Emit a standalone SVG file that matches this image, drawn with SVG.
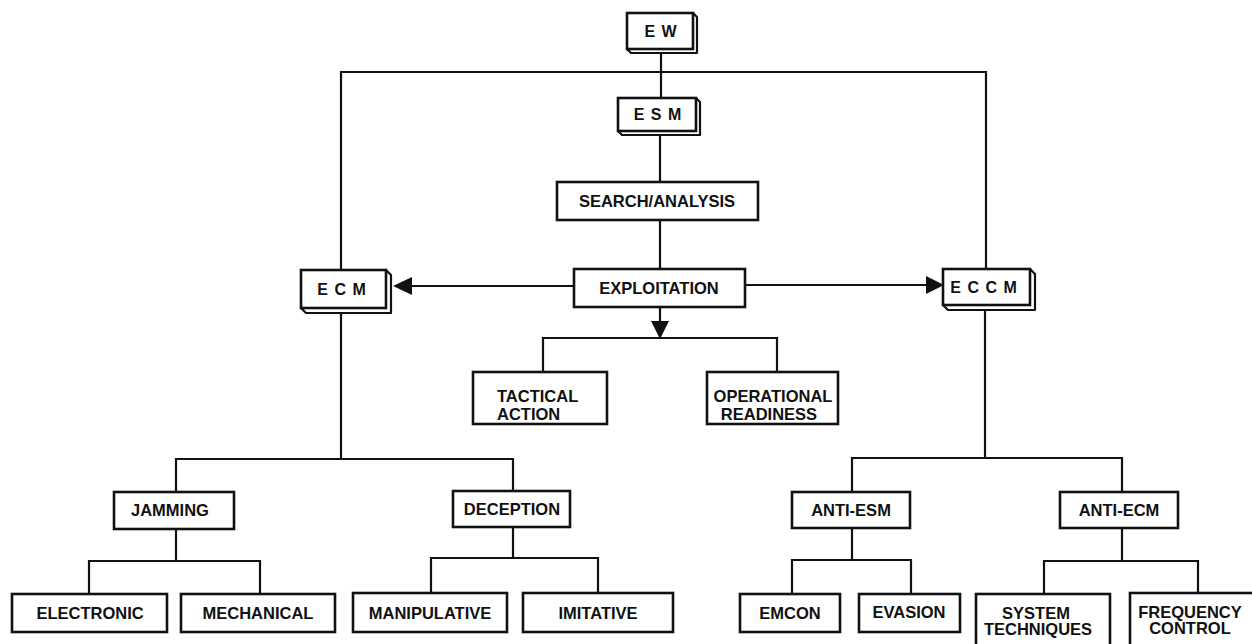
<svg xmlns="http://www.w3.org/2000/svg" width="1252" height="644" viewBox="0 0 1252 644">
<style>
  .bx{fill:#fff;stroke:#111;stroke-width:2.6}
  .d3{fill:#fff;stroke:#111;stroke-width:2.2;stroke-linejoin:round}
  .ln{fill:none;stroke:#111;stroke-width:2.2}
  .ah{fill:#111;stroke:none}
  text{font-family:"Liberation Sans",Arial,sans-serif;font-weight:bold;font-size:16.5px;fill:#111;text-anchor:middle}
  .sp{font-size:16px;letter-spacing:1px}
</style>
<rect x="0" y="0" width="1252" height="644" fill="#fff"/>
<g id="connectors">
  <path class="ln" d="M661 53 V98"/>
  <path class="ln" d="M341 270 V72 H986 V269"/>
  <path class="ln" d="M660 135 V182"/>
  <path class="ln" d="M660 220 V269"/>
  <path class="ln" d="M574 286 H410"/>
  <polygon class="ah" points="393,286 412,277 412,295"/>
  <path class="ln" d="M745 285 H929"/>
  <polygon class="ah" points="944,285 926,276 926,294"/>
  <path class="ln" d="M660 307 V324"/>
  <polygon class="ah" points="660,339 651,321 669,321"/>
  <path class="ln" d="M543 372 V338 H777 V372"/>
  <path class="ln" d="M341 313 V459"/>
  <path class="ln" d="M176 492 V459 H513 V491"/>
  <path class="ln" d="M176 529 V561"/>
  <path class="ln" d="M89 594 V561 H260 V594"/>
  <path class="ln" d="M513 527 V558"/>
  <path class="ln" d="M431 593 V558 H598 V593"/>
  <path class="ln" d="M985 310 V458"/>
  <path class="ln" d="M852 492 V458 H1122 V492"/>
  <path class="ln" d="M852 528 V560"/>
  <path class="ln" d="M792 594 V560 H911 V594"/>
  <path class="ln" d="M1122 528 V561"/>
  <path class="ln" d="M1044 594 V561 H1198 V593"/>
</g>
<g id="ew">
  <path class="d3" d="M693 13 L697 17 V53 H631 L627 49"/>
  <rect class="bx" x="627" y="13" width="66" height="36"/>
  <text class="sp" x="661" y="37">E W</text>
</g>
<g id="esm">
  <path class="d3" d="M696 98 L700 102 V135 H622 L618 131"/>
  <rect class="bx" x="618" y="98" width="78" height="33"/>
  <text class="sp" x="658" y="120">E S M</text>
</g>
<g id="search">
  <rect class="bx" x="557" y="182" width="201" height="38"/>
  <text x="657" y="207">SEARCH/ANALYSIS</text>
</g>
<g id="exploitation">
  <rect class="bx" x="574" y="269" width="171" height="38"/>
  <text x="659" y="294">EXPLOITATION</text>
</g>
<g id="ecm">
  <path class="d3" d="M386 270 L391 275 V313 H306 L301 308"/>
  <rect class="bx" x="301" y="270" width="85" height="38"/>
  <text class="sp" x="342" y="295">E C M</text>
</g>
<g id="eccm">
  <path class="d3" d="M1030 269 L1035 274 V310 H948 L943 305"/>
  <rect class="bx" x="943" y="269" width="87" height="36"/>
  <text class="sp" x="984" y="293">E C C M</text>
</g>
<g id="tactical">
  <rect class="bx" x="473" y="372" width="134" height="52"/>
  <text x="497" y="402" style="text-anchor:start">TACTICAL</text>
  <text x="497" y="420" style="text-anchor:start">ACTION</text>
</g>
<g id="operational">
  <rect class="bx" x="707" y="372" width="131" height="52"/>
  <text x="773" y="402">OPERATIONAL</text>
  <text x="769" y="420">READINESS</text>
</g>
<g id="jamming">
  <rect class="bx" x="114" y="492" width="120" height="37"/>
  <text x="170" y="516">JAMMING</text>
</g>
<g id="deception">
  <rect class="bx" x="453" y="491" width="117" height="36"/>
  <text x="512" y="515">DECEPTION</text>
</g>
<g id="antiesm">
  <rect class="bx" x="792" y="492" width="118" height="36"/>
  <text x="851" y="516">ANTI-ESM</text>
</g>
<g id="antiecm">
  <rect class="bx" x="1060" y="492" width="118" height="36"/>
  <text x="1119" y="516">ANTI-ECM</text>
</g>
<g id="electronic">
  <rect class="bx" x="12" y="594" width="155" height="38"/>
  <text x="90" y="619">ELECTRONIC</text>
</g>
<g id="mechanical">
  <rect class="bx" x="181" y="594" width="154" height="38"/>
  <text x="258" y="619">MECHANICAL</text>
</g>
<g id="manipulative">
  <rect class="bx" x="353" y="593" width="154" height="39"/>
  <text x="430" y="619">MANIPULATIVE</text>
</g>
<g id="imitative">
  <rect class="bx" x="523" y="593" width="150" height="39"/>
  <text x="598" y="619">IMITATIVE</text>
</g>
<g id="emcon">
  <rect class="bx" x="740" y="594" width="100" height="38"/>
  <text x="790" y="619">EMCON</text>
</g>
<g id="evasion">
  <rect class="bx" x="859" y="594" width="101" height="38"/>
  <text x="909" y="618">EVASION</text>
</g>
<g id="systemtech">
  <rect class="bx" x="976" y="594" width="134" height="60"/>
  <text x="1036" y="619">SYSTEM</text>
  <text x="1038" y="635">TECHNIQUES</text>
</g>
<g id="freqcontrol">
  <rect class="bx" x="1130" y="593" width="130" height="60"/>
  <text x="1190" y="618">FREQUENCY</text>
  <text x="1190" y="634">CONTROL</text>
</g>
</svg>
